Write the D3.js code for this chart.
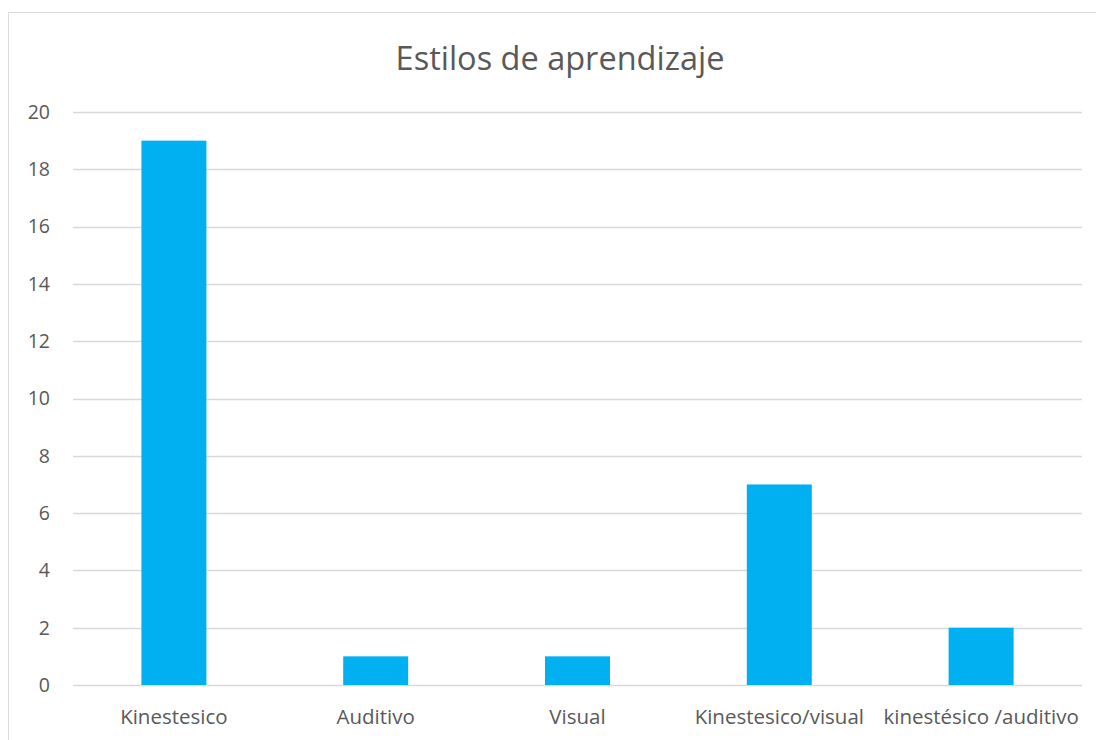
<!DOCTYPE html>
<html>
<head>
<meta charset="utf-8">
<script src="https://cdn.jsdelivr.net/npm/d3@7"></script>
<style>
  body { margin: 0; background: #fff; }
  text { font-family: "Open Sans", "Liberation Sans", sans-serif; fill: #595959; }
</style>
</head>
<body>
<div id="chart"></div>
<script>
var categories = ["Kinestesico", "Auditivo", "Visual", "Kinestesico/visual", "kinestésico /auditivo"];
var values = [19, 1, 1, 7, 2];
var yTicks = [0, 2, 4, 6, 8, 10, 12, 14, 16, 18, 20];

var width = 1096,
  height = 740;

var svg = d3.select("#chart")
  .append("svg")
  .attr("width", width)
  .attr("height", height);

// chart border (runs off the right and bottom of the frame)
svg.append("rect")
  .attr("x", 8.5)
  .attr("y", 12.5)
  .attr("width", 1100)
  .attr("height", 740)
  .attr("fill", "none")
  .attr("stroke", "#d9d9d9")
  .attr("stroke-width", 1);

var plotLeft = 73, plotRight = 1082, plotTop = 112, plotBottom = 685;

var x = d3.scaleBand()
  .domain(categories)
  .range([plotLeft, plotRight])
  .padding(0);

var y = d3.scaleLinear()
  .domain([0, 20])
  .range([plotBottom, plotTop]);

svg.append("text")
  .attr("x", 560)
  .attr("y", 70)
  .attr("text-anchor", "middle")
  .style("font-size", "32.5px")
  .text("Estilos de aprendizaje");

// gridlines
svg.append("g")
  .selectAll("line")
  .data(yTicks)
  .enter().append("line")
  .attr("x1", plotLeft)
  .attr("x2", plotRight)
  .attr("y1", function(d) { return Math.round(y(d)) + 0.5; })
  .attr("y2", function(d) { return Math.round(y(d)) + 0.5; })
  .attr("stroke", "#d9d9d9")
  .attr("stroke-width", 1.3);

// y tick labels
svg.append("g")
  .selectAll("text")
  .data(yTicks)
  .enter().append("text")
  .attr("x", 50)
  .attr("y", function(d) { return y(d); })
  .attr("dy", "0.35em")
  .attr("text-anchor", "end")
  .style("font-size", "19.5px")
  .text(function(d) { return d; });

var barW = x.bandwidth() * 0.322;

svg.append("g")
  .selectAll("rect")
  .data(values)
  .enter().append("rect")
  .attr("x", function(d, i) { return x(categories[i]) + x.bandwidth() / 2 - barW / 2; })
  .attr("y", function(d) { return y(d); })
  .attr("width", barW)
  .attr("height", function(d) { return y(0) - y(d); })
  .attr("fill", "#00b0f0");

// category labels
svg.append("g")
  .selectAll("text")
  .data(categories)
  .enter().append("text")
  .attr("x", function(d) { return x(d) + x.bandwidth() / 2; })
  .attr("y", 724)
  .attr("text-anchor", "middle")
  .style("font-size", "20.5px")
  .text(function(d) { return d; });
</script>
</body>
</html>
